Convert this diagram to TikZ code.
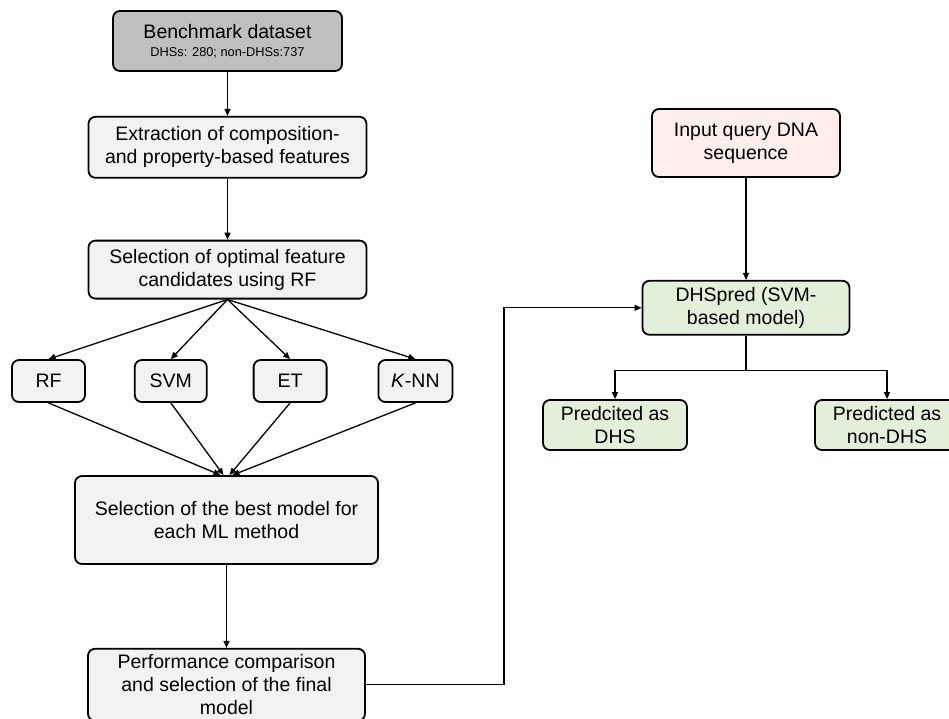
\documentclass[tikz,border=0pt]{standalone}
\usepackage{fontspec}
\setmainfont{Liberation Sans}
\usetikzlibrary{positioning,arrows.meta}
\definecolor{boxgray}{HTML}{F2F2F2}
\definecolor{benchgray}{HTML}{BFBFBF}
\definecolor{querypink}{HTML}{FDEEEB}
\definecolor{predgreen}{HTML}{E2EFDA}

\begin{document}
\begin{tikzpicture}[
  x=1pt, y=-1pt, >={Triangle[length=7pt,width=6pt]},
  box/.style={draw,line width=1.8pt,rounded corners=7pt,align=center,fill=boxgray,inner sep=2pt,font=\fontsize{19.5}{23}\selectfont},
  small/.style={box,minimum height=42pt},
  link/.style={->,line width=1.3pt}]
\useasboundingbox (0,0) rectangle (949,718);
% training pipeline
\node[box,fill=benchgray,minimum width=229pt,minimum height=60pt] (bench) at (227.5,41) {Benchmark dataset\\[-5pt]{\fontsize{12.8}{14}\selectfont DHSs: 280; non-DHSs:737}};
\node[box,minimum width=278pt,minimum height=61pt,below=44pt of bench] (extract) {Extraction of composition-\\and property-based features};
\node[box,minimum width=278pt,minimum height=58pt,below=61pt of extract] (optsel) {Selection of optimal feature\\candidates using RF};
\node[small,minimum width=73pt] (rf) at (48.5,381) {RF};
\node[small,minimum width=72pt,right=48pt of rf] (svm) {SVM};
\node[small,minimum width=73pt,right=45pt of svm] (et) {ET};
\node[small,minimum width=74pt,right=50pt of et] (knn) {\textit{K}-NN};
\node[box,minimum width=303pt,minimum height=88pt] (best) at (226.5,520) {Selection of the best model for\\each ML method};
\node[box,minimum width=277pt,minimum height=72pt,below=83pt of best] (perf) {Performance comparison\\and selection of the final\\model};
% prediction
\node[box,fill=querypink,minimum width=188pt,minimum height=68pt] (query) at (746,143) {Input query DNA\\sequence};
\node[box,fill=predgreen,minimum width=207pt,minimum height=54pt,below=102pt of query] (dhspred) {DHSpred (SVM-\\based model)};
\node[box,fill=predgreen,minimum width=144pt,minimum height=50pt] (isdhs) at (615,425) {Predcited as\\DHS};
\node[box,fill=predgreen,minimum width=144pt,minimum height=50pt] (nondhs) at (887,425) {Predicted as\\non-DHS};
\draw[link] (bench) -- (extract);
\draw[link] (extract) -- (optsel);
\foreach \m in {rf,svm,et,knn}
  \draw[link] (optsel.south) -- (\m.north);
\draw[link] (rf.south) -- ([xshift=-6pt]best.north);
\draw[link] (svm.south) -- ([xshift=-3pt]best.north);
\draw[link] (et.south) -- ([xshift=3pt]best.north);
\draw[link] (knn.south) -- ([xshift=6pt]best.north);
\draw[link] (best) -- (perf);
\draw[link] (perf.east) -- ++(138,0) |- (dhspred.west);
\draw[link] (query) -- (dhspred);
\draw[line width=1.8pt] (dhspred.south) -- ++(0,35) coordinate (split);
\draw[link] (split) -| (isdhs.north);
\draw[link] (split) -| (nondhs.north);
\end{tikzpicture}
\end{document}
